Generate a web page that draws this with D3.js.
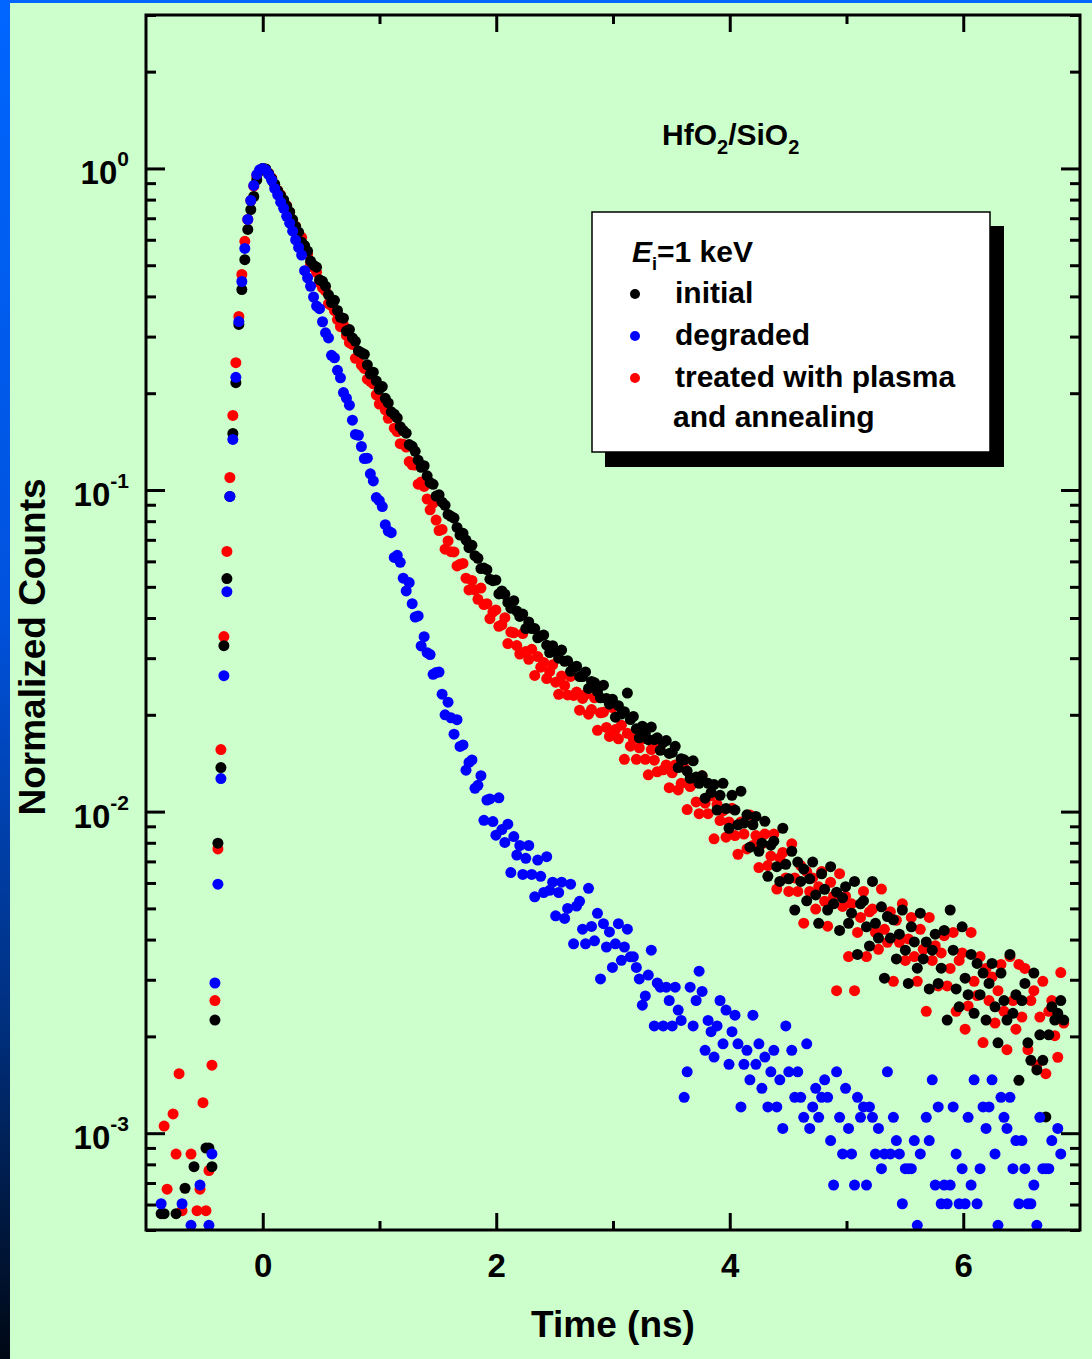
<!DOCTYPE html>
<html lang="en">
<head>
<meta charset="UTF-8">
<title>HfO2/SiO2 - Normalized Counts vs Time</title>
<script src="https://cdn.jsdelivr.net/npm/d3@7"></script>
<style>
  body { margin: 0; background: #ccffcc; }
  svg { display: block; }
  text { font-family: "Liberation Sans", Arial, Helvetica, sans-serif; font-weight: bold; fill: #000; }
</style>
</head>
<body>
<svg id="chart" width="1092" height="1359"></svg>
<script>
// time axis: fixed channel width, first channel index (t = channel * width)
const channelWidth = 0.0256;
const firstChannel = -34;

// counts per channel, channel -34 .. 268
const initialCounts = [
  5, 5, 4, 3, 4, 5, 4, 3, 6, 4, 4, 7, 3, 4, 4, 8, 8, 7,
  20, 71, 122, 292, 472, 850, 1335, 1920, 2913, 3740, 4630, 5750, 6630, 7280, 8200, 8750, 8900,
  8870, 8580, 8260, 7950, 7590, 7330, 7100, 6790, 6520, 6170,
  5865, 5637, 5250, 5122, 4926, 4585, 4452, 4388, 4008, 3965,
  3829, 3600, 3405, 3462, 3220, 3066, 3045, 2777, 2807, 2644,
  2580, 2410, 2380, 2352, 2181, 2041, 2070, 1944, 1830, 1866,
  1716, 1660, 1558, 1531, 1491, 1400, 1363, 1337, 1232, 1217,
  1174, 1102, 1047, 1059, 985, 939, 927, 852, 860, 816,
  798, 747, 737, 728, 681, 645, 653, 622, 589, 599,
  556, 546, 507, 509, 503, 470, 465, 467, 423, 432,
  422, 398, 382, 403, 374, 360, 366, 330, 346, 330,
  330, 309, 313, 315, 293, 278, 292, 280, 267, 283,
  261, 262, 243, 250, 252, 234, 234, 242, 215, 226,
  224, 210, 201, 220, 200, 192, 199, 175, 190, 179,
  182, 208, 172, 176, 161, 151, 164, 156, 149, 163,
  149, 151, 138, 146, 148, 135, 136, 142, 122, 130,
  129, 119, 113, 128, 114, 109, 115, 98, 109, 102,
  108, 90, 100, 109, 91, 79, 100, 90, 81, 103,
  82, 87, 69, 81, 86, 67, 71, 83, 56, 70,
  72, 60, 54, 79, 61, 55, 67, 44, 62, 54,
  59, 47, 55, 62, 49, 40, 57, 51, 44, 60,
  46, 50, 38, 48, 52, 40, 43, 54, 32, 46,
  47, 39, 34, 54, 40, 36, 45, 27, 42, 36,
  41, 31, 37, 44, 33, 26, 39, 35, 29, 43,
  31, 35, 25, 33, 37, 26, 29, 38, 20, 44,
  33, 25, 22, 39, 27, 24, 32, 21, 30, 24,
  28, 20, 26, 30, 22, 17, 28, 23, 20, 32,
  21, 24, 13, 23, 26, 17, 15, 28, 14, 18,
  15, 10, 18, 22, 20, 21, 23, 20
];

const degradedCounts = [
  7, 4, 3, 5, 4, 3, 5, 7, 4, 5, 6, 3, 5, 8, 4, 5, 6, 10,
  34, 69, 147, 307, 560, 1108, 1666, 2600, 3876, 5163, 6540, 8050, 9220, 10270, 11100, 11500, 11600,
  11480, 11090, 10660, 10050, 9600, 9110, 8720, 8230, 7840, 7400,
  6950, 6590, 6240, 5580, 5300, 4990, 4620, 4330, 4250, 3870,
  3574, 3448, 3044, 2988, 2734, 2591, 2331, 2239, 2129, 1912,
  1727, 1717, 1584, 1453, 1457, 1303, 1238, 1099, 1075, 1030,
  905, 865, 855, 716, 727, 691, 617, 563, 598, 514,
  467, 471, 380, 406, 362, 357, 310, 314, 315, 269,
  232, 254, 227, 202, 224, 185, 187, 156, 165, 168,
  137, 140, 150, 109, 126, 127, 108, 98, 128, 102,
  93, 106, 75, 97, 85, 91, 74, 83, 91, 74,
  63, 82, 73, 65, 84, 66, 70, 55, 65, 70,
  54, 58, 69, 45, 59, 61, 50, 45, 67, 51,
  46, 56, 35, 52, 44, 49, 38, 45, 52, 40,
  44, 50, 41, 41, 38, 35, 29, 31, 36, 43,
  25, 34, 33, 25, 33, 30, 25, 33, 28, 26,
  15, 18, 33, 25, 30, 37, 32, 21, 26, 24,
  20, 25, 30, 22, 28, 19, 24, 27, 22, 14,
  19, 21, 17, 27, 19, 22, 16, 20, 14, 18,
  21, 14, 17, 12, 25, 18, 21, 15, 18, 15,
  13, 22, 12, 14, 16, 13, 15, 17, 15, 11,
  8, 18, 13, 10, 16, 12, 10, 8, 15, 13,
  14, 8, 14, 13, 10, 12, 9, 10, 18, 10,
  13, 11, 10, 7, 9, 9, 9, 11, 6, 10,
  5, 13, 11, 17, 8, 14, 7, 8, 7, 8,
  14, 10, 7, 9, 7, 13, 8, 17, 7, 9,
  14, 12, 14, 17, 10, 6, 15, 13, 12, 15,
  9, 11, 7, 11, 9, 7, 7, 8, 6, 13,
  9, 9, 9, 11, 4, 12, 10, 5
];

const treatedCounts = [
  4, 11, 7, 5, 12, 9, 16, 6, 5, 4, 9, 5, 6, 7, 13, 6, 8, 17,
  27, 80, 163, 366, 673, 1143, 1783, 2600, 3620, 4890, 6200, 7250, 8300, 9200, 9900, 10300, 10450,
  10390, 10080, 9740, 9290, 8930, 8650, 8280, 8010, 7640, 7180,
  6908, 6523, 6382, 5915, 5668, 5262, 5142, 4967, 4616, 4443,
  4348, 3968, 3915, 3774, 3540, 3365, 3410, 3160, 3002, 2964,
  2684, 2711, 2555, 2495, 2311, 2275, 2236, 2067, 1933, 1965,
  1854, 1746, 1779, 1627, 1588, 1456, 1451, 1421, 1281, 1252,
  1249, 1090, 1107, 1072, 980, 907, 952, 843, 782, 788,
  684, 726, 672, 671, 607, 614, 618, 556, 511, 547,
  511, 478, 518, 460, 463, 416, 436, 443, 394, 398,
  419, 348, 378, 376, 343, 323, 374, 329, 311, 334,
  277, 317, 294, 304, 271, 285, 299, 264, 242, 276,
  258, 241, 275, 240, 246, 216, 235, 242, 210, 217,
  236, 187, 212, 213, 191, 179, 220, 188, 176, 194,
  152, 183, 167, 176, 152, 165, 176, 152, 136, 163,
  151, 139, 167, 141, 146, 124, 138, 146, 122, 128,
  143, 106, 125, 128, 112, 103, 135, 111, 103, 117,
  86, 110, 98, 105, 87, 97, 107, 88, 77, 97,
  89, 80, 102, 82, 88, 70, 83, 89, 71, 76,
  89, 60, 75, 78, 65, 59, 83, 65, 59, 71,
  47, 68, 59, 65, 52, 61, 68, 55, 46, 63,
  57, 29, 67, 53, 57, 37, 54, 29, 44, 49,
  59, 37, 51, 52, 44, 39, 60, 45, 41, 51,
  31, 48, 41, 54, 36, 42, 49, 37, 31, 45,
  39, 25, 49, 36, 40, 30, 38, 43, 30, 34,
  44, 25, 36, 38, 22, 26, 44, 31, 28, 37,
  20, 34, 27, 32, 23, 29, 35, 25, 19, 37,
  27, 22, 35, 24, 34, 19, 27, 29, 17, 24,
  31, 16, 25, 27, 21, 18, 33, 23
];

const xTicks = [0, 2, 4, 6];
const xMinorTicks = [1, 3, 5];
const yDecades = [1e-3, 1e-2, 1e-1, 1];
const legendHeader = { symbol: "E", sub: "i", rest: "=1 keV" };
const legendLabels = ["initial", "degraded", "treated with plasma"];
const legendExtra = "and annealing";

const W = 1092, H = 1359;
const svg = d3.select("#chart");

// scales
const x = d3.scaleLinear().domain([-1, 7]).range([146, 1080]);
const y = d3.scaleLog().domain([5e-4, 3]).range([1230, 15]);

// background and blue edge
const defs = svg.append("defs");
const grad = defs.append("linearGradient").attr("id", "edge")
    .attr("x1", 0).attr("y1", 0).attr("x2", 0).attr("y2", 1);
[[0, "#0066ff"], [0.45, "#0052dd"], [0.75, "#00307f"], [1, "#000814"]].forEach(s => {
    grad.append("stop").attr("offset", s[0]).attr("stop-color", s[1]);
});
svg.append("rect").attr("width", W).attr("height", H).attr("fill", "#ccffcc");
svg.append("rect").attr("width", W).attr("height", 3).attr("fill", "#0066ff");
svg.append("rect").attr("width", 10).attr("height", H).attr("fill", "url(#edge)");

defs.append("clipPath").attr("id", "plotClip")
    .append("rect")
    .attr("x", x.range()[0]).attr("y", y.range()[1])
    .attr("width", x.range()[1] - x.range()[0])
    .attr("height", y.range()[0] - y.range()[1]);

// data points (drawn red, black, blue)
const series = [
    { counts: treatedCounts, color: "#ff0000" },
    { counts: initialCounts, color: "#000000" },
    { counts: degradedCounts, color: "#0000ff" }
];
const dots = svg.append("g").attr("clip-path", "url(#plotClip)");
series.forEach(s => {
    const peak = d3.max(s.counts);
    const pts = s.counts.map((c, i) => ({ t: (firstChannel + i) * channelWidth, v: c / peak }));
    dots.append("g").selectAll("circle")
        .data(pts)
        .join("circle")
        .attr("cx", d => x(d.t))
        .attr("cy", d => y(d.v))
        .attr("r", 5.5)
        .attr("fill", s.color);
});

// axes (ticks inward on all four sides)
const styleAxis = g => {
    g.select(".domain").remove();
    g.selectAll(".tick line").attr("stroke", "#000").attr("stroke-width", 3);
    g.selectAll(".tick text")
        .attr("font-family", "'Liberation Sans', Arial, sans-serif")
        .attr("font-weight", "bold")
        .attr("font-size", 33)
        .attr("fill", "#000");
};
const yMinor = y.ticks().filter(v => Math.abs(Math.log10(v) - Math.round(Math.log10(v))) > 1e-6);

svg.append("g").attr("transform", "translate(0,1230)")
    .call(d3.axisBottom(x).tickValues(xTicks).tickSize(-17).tickPadding(24).tickFormat(d3.format("d")))
    .call(styleAxis);
svg.append("g").attr("transform", "translate(0,1230)")
    .call(d3.axisBottom(x).tickValues(xMinorTicks).tickSize(-9).tickFormat(""))
    .call(styleAxis);
svg.append("g").attr("transform", "translate(0,15)")
    .call(d3.axisTop(x).tickValues(xTicks).tickSize(-17).tickFormat(""))
    .call(styleAxis);
svg.append("g").attr("transform", "translate(0,15)")
    .call(d3.axisTop(x).tickValues(xMinorTicks).tickSize(-9).tickFormat(""))
    .call(styleAxis);
svg.append("g").attr("transform", "translate(146,0)")
    .call(d3.axisLeft(y).tickValues(yDecades).tickSize(-19).tickFormat(""))
    .call(styleAxis);
svg.append("g").attr("transform", "translate(146,0)")
    .call(d3.axisLeft(y).tickValues(yMinor).tickSize(-10).tickFormat(""))
    .call(styleAxis);
svg.append("g").attr("transform", "translate(1080,0)")
    .call(d3.axisRight(y).tickValues(yDecades).tickSize(-19).tickFormat(""))
    .call(styleAxis);
svg.append("g").attr("transform", "translate(1080,0)")
    .call(d3.axisRight(y).tickValues(yMinor).tickSize(-10).tickFormat(""))
    .call(styleAxis);

// frame
svg.append("rect")
    .attr("x", 146).attr("y", 15).attr("width", 934).attr("height", 1215)
    .attr("fill", "none").attr("stroke", "#000").attr("stroke-width", 3);

// y labels 10^n
yDecades.forEach(v => {
    const t = svg.append("text")
        .attr("x", 129).attr("y", y(v) + 16)
        .attr("text-anchor", "end").attr("font-size", 33);
    t.append("tspan").text("10");
    t.append("tspan").attr("font-size", 21).attr("dy", -18).text(Math.round(Math.log10(v)));
});

// axis titles
svg.append("text")
    .attr("x", 613).attr("y", 1337)
    .attr("text-anchor", "middle").attr("font-size", 37)
    .text("Time (ns)");
svg.append("text")
    .attr("transform", "translate(45,647) rotate(-90)")
    .attr("text-anchor", "middle").attr("font-size", 37)
    .text("Normalized Counts");

// sample label
const title = svg.append("text").attr("x", 662).attr("y", 145).attr("font-size", 30);
title.append("tspan").text("HfO");
title.append("tspan").attr("font-size", 20).attr("dy", 9).text("2");
title.append("tspan").attr("font-size", 30).attr("dy", -9).text("/SiO");
title.append("tspan").attr("font-size", 20).attr("dy", 9).text("2");

// legend with drop shadow
svg.append("rect").attr("x", 605).attr("y", 226).attr("width", 399).attr("height", 241).attr("fill", "#000");
svg.append("rect").attr("x", 592).attr("y", 212).attr("width", 398).attr("height", 240)
    .attr("fill", "#fff").attr("stroke", "#000").attr("stroke-width", 1.5);

const head = svg.append("text").attr("x", 632).attr("y", 262).attr("font-size", 30);
head.append("tspan").attr("font-style", "italic").text(legendHeader.symbol);
head.append("tspan").attr("font-size", 18).attr("dy", 8).text(legendHeader.sub);
head.append("tspan").attr("font-size", 30).attr("dy", -8).text(legendHeader.rest);

const legendColors = ["#000000", "#0000ff", "#ff0000"];
legendLabels.forEach((label, i) => {
    const base = 303 + i * 42;
    svg.append("circle").attr("cx", 635).attr("cy", base - 9).attr("r", 5).attr("fill", legendColors[i]);
    svg.append("text").attr("x", 675).attr("y", base).attr("font-size", 30).text(label);
});
svg.append("text").attr("x", 673).attr("y", 303 + 3 * 42 - 2).attr("font-size", 30).text(legendExtra);
</script>
</body>
</html>
